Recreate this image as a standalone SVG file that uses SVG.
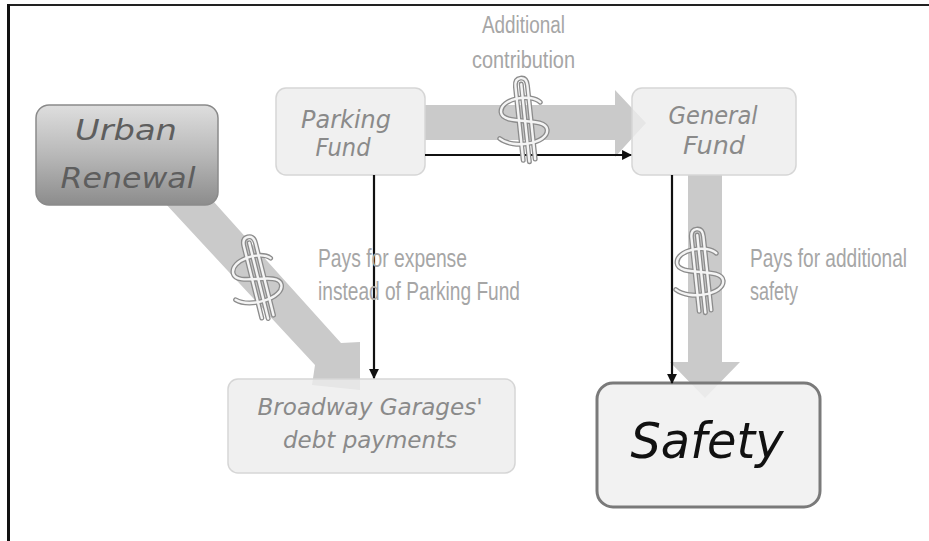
<svg xmlns="http://www.w3.org/2000/svg" width="929" height="541" viewBox="0 0 929 541">
<defs>
<style>
.hand{font-family:"DejaVu Sans","Liberation Sans",sans-serif;font-style:italic;text-anchor:middle}
.lbl{font-family:"Liberation Sans","DejaVu Sans",sans-serif;fill:#a6a6a6;font-size:19px}
.box{fill:#ececec;fill-opacity:0.8;stroke:#d6d6d6;stroke-width:1.5}
.wire{stroke:#111;stroke-width:2.2;fill:none}
.band{fill:#cacaca}
.dol1{fill:none;stroke:#8c8c8c;stroke-width:5;stroke-linecap:round;stroke-linejoin:round}
.dol2{fill:none;stroke:#f4f4f4;stroke-width:2.4;stroke-linecap:round;stroke-linejoin:round}
</style>
<linearGradient id="urbanGrad" x1="0" y1="0" x2="0" y2="1">
<stop offset="0" stop-color="#dedede"/>
<stop offset="0.5" stop-color="#b8b8b8"/>
<stop offset="1" stop-color="#8c8c8c"/>
</linearGradient>
<marker id="ah" viewBox="0 0 10 10" refX="9" refY="5" markerWidth="4.5" markerHeight="4.5" orient="auto">
<path d="M0,0 L10,5 L0,10 z" fill="#111"/>
</marker>
<g id="dollar">
<g class="dol1">
<path d="M-5,40 L-5,-34 Q-5,-42 1,-42 Q7,-42 7,-34 L7,40"/>
<path d="M1,-36 L1,42"/>
<path d="M18,-16 C10,-26 -22,-24 -22,-10 C-22,4 22,-2 22,12 C22,26 -14,28 -26,16"/>
</g>
<g class="dol2">
<path d="M-5,40 L-5,-34 Q-5,-42 1,-42 Q7,-42 7,-34 L7,40"/>
<path d="M1,-36 L1,42"/>
<path d="M18,-16 C10,-26 -22,-24 -22,-10 C-22,4 22,-2 22,12 C22,26 -14,28 -26,16"/>
</g>
</g>
</defs>
<rect x="0" y="0" width="929" height="541" fill="#ffffff"/>
<g id="frame">
<line x1="7" y1="5" x2="929" y2="5" stroke="#222" stroke-width="2"/>
<line x1="8.5" y1="4" x2="8.5" y2="541" stroke="#111" stroke-width="3"/>
</g>
<g id="connectors">
<polygon class="band" points="425,105 615,105 615,90 646,123 615,157 615,140 425,140"/>
<polygon class="band" points="190,180 214,202 341,343 360,342 360,390 312,385 315,365 164,202"/>
<polygon class="band" points="688,175 722,175 722,362 740,362 705,398 670,362 688,362"/>
</g>
<g id="node-parking-fund">
<rect class="box" x="276" y="88" width="149" height="87" rx="10"/>
<text class="hand" x="346" y="128" font-size="24" fill="#8a8a8a" textLength="90" lengthAdjust="spacingAndGlyphs">Parking</text>
<text class="hand" x="343" y="156" font-size="24" fill="#8a8a8a" textLength="55" lengthAdjust="spacingAndGlyphs">Fund</text>
</g>
<g id="node-general-fund">
<rect class="box" x="632" y="88" width="164" height="87" rx="10"/>
<text class="hand" x="713" y="124" font-size="24" fill="#8a8a8a" textLength="89" lengthAdjust="spacingAndGlyphs">General</text>
<text class="hand" x="714" y="154" font-size="24" fill="#8a8a8a" textLength="62" lengthAdjust="spacingAndGlyphs">Fund</text>
</g>
<g id="node-urban-renewal">
<rect x="36" y="105" width="182" height="100" rx="13" fill="url(#urbanGrad)" stroke="#8a8a8a" stroke-width="1.5"/>
<text class="hand" x="126" y="140" font-size="29" fill="#5e5e5e" textLength="102" lengthAdjust="spacingAndGlyphs">Urban</text>
<text class="hand" x="128" y="188" font-size="29" fill="#5e5e5e" textLength="135" lengthAdjust="spacingAndGlyphs">Renewal</text>
</g>
<g id="node-broadway">
<rect class="box" x="228" y="379" width="287" height="94" rx="10"/>
<text class="hand" x="370" y="415" font-size="23" fill="#8a8a8a" textLength="225" lengthAdjust="spacingAndGlyphs">Broadway Garages'</text>
<text class="hand" x="370" y="448" font-size="23" fill="#8a8a8a" textLength="174" lengthAdjust="spacingAndGlyphs">debt payments</text>
</g>
<g id="node-safety">
<rect x="597" y="383" width="223" height="124" rx="16" fill="#f0f0f0" fill-opacity="0.85" stroke="#7a7a7a" stroke-width="3"/>
<text class="hand" x="707" y="458" font-size="50" fill="#111" textLength="153" lengthAdjust="spacingAndGlyphs">Safety</text>
</g>
<g id="wires">
<line class="wire" x1="425" y1="155" x2="631" y2="155" marker-end="url(#ah)"/>
<line class="wire" x1="374" y1="175" x2="374" y2="378" marker-end="url(#ah)"/>
<line class="wire" x1="672" y1="175" x2="672" y2="383" marker-end="url(#ah)"/>
</g>
<g id="icons">
<use href="#dollar" transform="translate(524,120) rotate(-6)"/>
<use href="#dollar" transform="translate(257,278) rotate(-14)"/>
<use href="#dollar" transform="translate(700,271) rotate(-6)"/>
</g>
<g id="labels">
<text class="lbl" transform="translate(482,33) scale(1,1.3)" textLength="83" lengthAdjust="spacingAndGlyphs">Additional</text>
<text class="lbl" transform="translate(472,68) scale(1,1.3)" textLength="103" lengthAdjust="spacingAndGlyphs">contribution</text>
<text class="lbl" transform="translate(318,267) scale(1,1.35)" textLength="149" lengthAdjust="spacingAndGlyphs">Pays for expense</text>
<text class="lbl" transform="translate(318,300) scale(1,1.35)" textLength="202" lengthAdjust="spacingAndGlyphs">instead of Parking Fund</text>
<text class="lbl" transform="translate(750,267) scale(1,1.35)" textLength="157" lengthAdjust="spacingAndGlyphs">Pays for additional</text>
<text class="lbl" transform="translate(750,300) scale(1,1.35)" textLength="48" lengthAdjust="spacingAndGlyphs">safety</text>
</g>
</svg>
